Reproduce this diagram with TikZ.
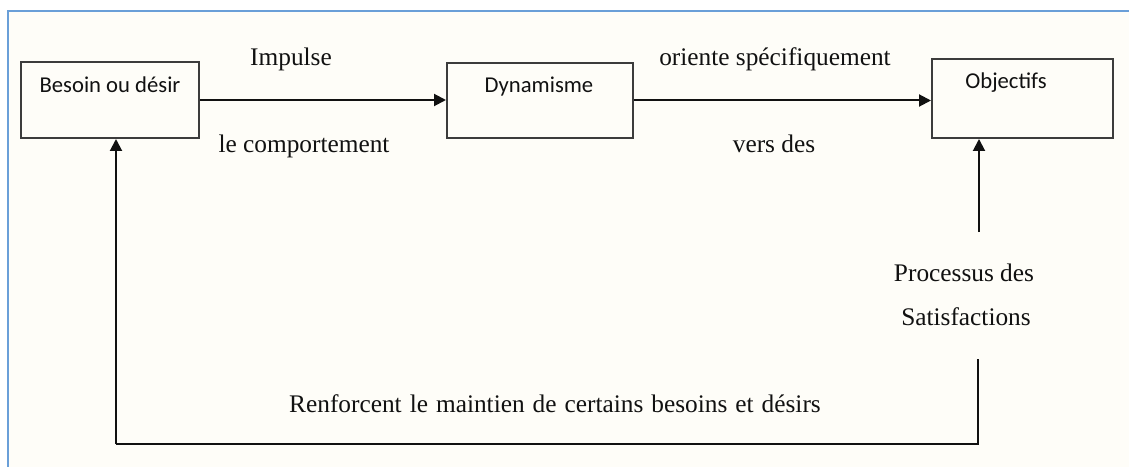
\documentclass[tikz,border=0pt]{standalone}
\usepackage{fontspec}
\setmainfont{Liberation Serif}
\newfontfamily\boxfont{Carlito}
\usetikzlibrary{arrows.meta,calc}
\definecolor{paper}{HTML}{FEFDF8}
\definecolor{frameblue}{HTML}{6A9FD8}
\definecolor{boxline}{HTML}{3C3C3C}
\definecolor{ink}{HTML}{111111}
\begin{document}
\begin{tikzpicture}[x=0.75pt,y=-0.75pt,
  stepbox/.style={draw=boxline,line width=1.5pt,inner sep=0pt},
  boxlabel/.style={font=\boxfont\fontsize{17}{20}\selectfont,text=ink,anchor=base,inner sep=0pt},
  edgelabel/.style={font=\fontsize{19}{22}\selectfont,text=ink,anchor=base,inner sep=0pt},
  flow/.style={draw=ink,line width=1.5pt,-{Triangle[length=9pt,width=9pt]}},
  plain/.style={draw=ink,line width=1.5pt}]
\useasboundingbox (0,0) rectangle (1129,467);
% page and frame
\fill[white] (0,0) rectangle (1129,467);
\fill[paper] (8,11) rectangle (1129,467);
\draw[frameblue,line width=1.5pt] (8,467) -- (8,11) -- (1129,11);

% boxes
\node[stepbox,minimum width=133.5pt,minimum height=57pt] (b1) at (110,100) {};
\node[stepbox,minimum width=139.5pt,minimum height=56.25pt] (b2) at (540,100.5) {};
\node[stepbox,minimum width=135.75pt,minimum height=59.25pt] (b3) at (1022.5,98.5) {};
\node[boxlabel] (t1) at (110,93) {Besoin ou désir};
\node[boxlabel] (t2) at (539,93) {Dynamisme};
\node[boxlabel] (t3) at (1006,89) {Objectifs};

% labels
\node[edgelabel] (l1) at (291,66) {Impulse};
\node[edgelabel] (l2) at (304,152) {le comportement};
\node[edgelabel] (l3) at (775,66) {oriente spécifiquement};
\node[edgelabel] (l4) at (774,152) {vers des};
\node[edgelabel] (l5) at (964,281) {Processus des};
\node[edgelabel] (l6) at (966,325) {Satisfactions};
\node[edgelabel] (l7) at (555,412)
  {\spaceskip=6pt\relax Renforcent le maintien de certains besoins et désirs};

% connectors
\coordinate (up) at (979,232);
\coordinate (down) at (978,359);
\coordinate (corner) at (116,444);
\draw[flow] (b1.east) -- (b1.east -| b2.west);
\draw[flow] (b2.east) -- (b2.east -| b3.west);
\draw[flow] (up) -- (up |- b3.south);
\draw[plain] (down) |- (corner);
\draw[flow] (corner) -- (corner |- b1.south);
\end{tikzpicture}
\end{document}
